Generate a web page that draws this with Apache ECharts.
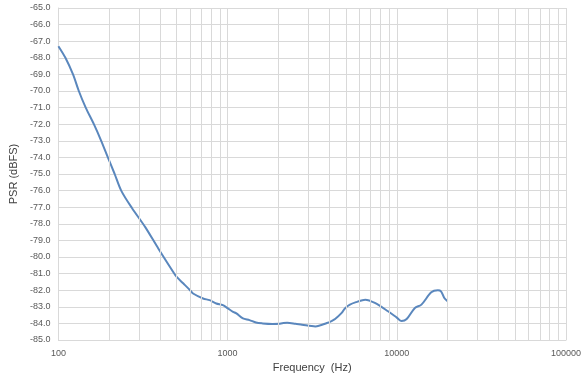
<!DOCTYPE html>
<html>
<head>
<meta charset="utf-8">
<script src="https://cdn.jsdelivr.net/npm/echarts@6/dist/echarts.min.js"></script>
<style>
  html, body { margin: 0; padding: 0; background: #fff; }
  #chart { width: 586px; height: 381px; }
</style>
</head>
<body>
<div id="chart"></div>
<script>
// frequency (Hz) and PSR (dBFS)
var freqs = [100, 110, 122, 132, 145, 162, 179, 196, 215, 235, 272, 326, 390, 477, 500, 548, 600, 625, 716, 783, 857, 938, 1005, 1077,
  1127, 1232, 1347, 1471, 1610, 1839, 2013, 2104, 2250, 2518, 2756, 3302, 3862, 4149, 4318, 4723, 4935, 5283,
  5813, 6262, 6505, 7419, 8870, 10000, 10675, 11440, 12790, 13980, 15980, 17480, 18250, 19090, 19960];
var psr = [-67.3, -68.0, -69.0, -70.0, -71.0, -72.0, -73.0, -74.0, -75.0, -76.0, -77.05, -78.2, -79.5, -80.9, -81.2, -81.6, -82.0, -82.2, -82.5, -82.6, -82.8, -82.9, -83.1, -83.3,
  -83.4, -83.7, -83.8, -83.95, -84.0, -84.03, -84.02, -83.99, -83.96, -84.02, -84.08, -84.18, -83.98, -83.84, -83.74, -83.37, -83.1, -82.87,
  -82.7, -82.6, -82.57, -82.77, -83.27, -83.65, -83.86, -83.74, -83.07, -82.87, -82.13, -82.01, -82.07, -82.47, -82.67];
var minorFreqs = [200, 300, 400, 500, 600, 700, 800, 900,
  2000, 3000, 4000, 5000, 6000, 7000, 8000, 9000,
  20000, 30000, 40000, 50000, 60000, 70000, 80000, 90000];

var gridColor = '#d9d9d9';
var textColor = '#595959';

var chart = echarts.init(document.getElementById('chart'));
var points = freqs.map(function (f, i) { return [f, psr[i]]; });

var option = {
  animation: false,
  grid: { left: 54, right: 20, top: 8, bottom: 41 },
  xAxis: {
    type: 'log',
    logBase: 10,
    min: 100,
    max: 100000,
    name: 'Frequency  (Hz)',
    nameLocation: 'middle',
    nameGap: 22,
    nameTextStyle: { color: '#404040', fontSize: 11, fontFamily: 'Liberation Sans' },
    axisLine: { lineStyle: { color: gridColor } },
    axisTick: { show: false },
    axisLabel: {
      color: textColor, fontSize: 9, fontFamily: 'Liberation Sans', margin: 9,
      formatter: function (v) { return String(Math.round(v)); }
    },
    splitLine: { show: true, lineStyle: { color: gridColor, width: 1 } }
  },
  yAxis: {
    type: 'value',
    min: -85,
    max: -65,
    interval: 1,
    name: 'PSR (dBFS)',
    nameLocation: 'middle',
    nameGap: 37,
    nameTextStyle: { color: '#404040', fontSize: 11, fontFamily: 'Liberation Sans' },
    axisLine: { show: true, lineStyle: { color: gridColor } },
    axisTick: { show: false },
    axisLabel: {
      color: textColor, fontSize: 9, fontFamily: 'Liberation Sans', margin: 8,
      formatter: function (v) { return v.toFixed(1); }
    },
    splitLine: { lineStyle: { color: gridColor, width: 1 } }
  },
  series: [{
    type: 'line',
    data: points,
    smooth: 0.3,
    showSymbol: false,
    lineStyle: { color: '#5a87bd', width: 2 },
    markLine: {
      silent: true,
      symbol: 'none',
      label: { show: false },
      lineStyle: { color: gridColor, type: 'solid', width: 1 },
      data: minorFreqs.map(function (f) { return { xAxis: f }; })
    },
    z: 3
  }]
};
chart.setOption(option);
</script>
</body>
</html>
